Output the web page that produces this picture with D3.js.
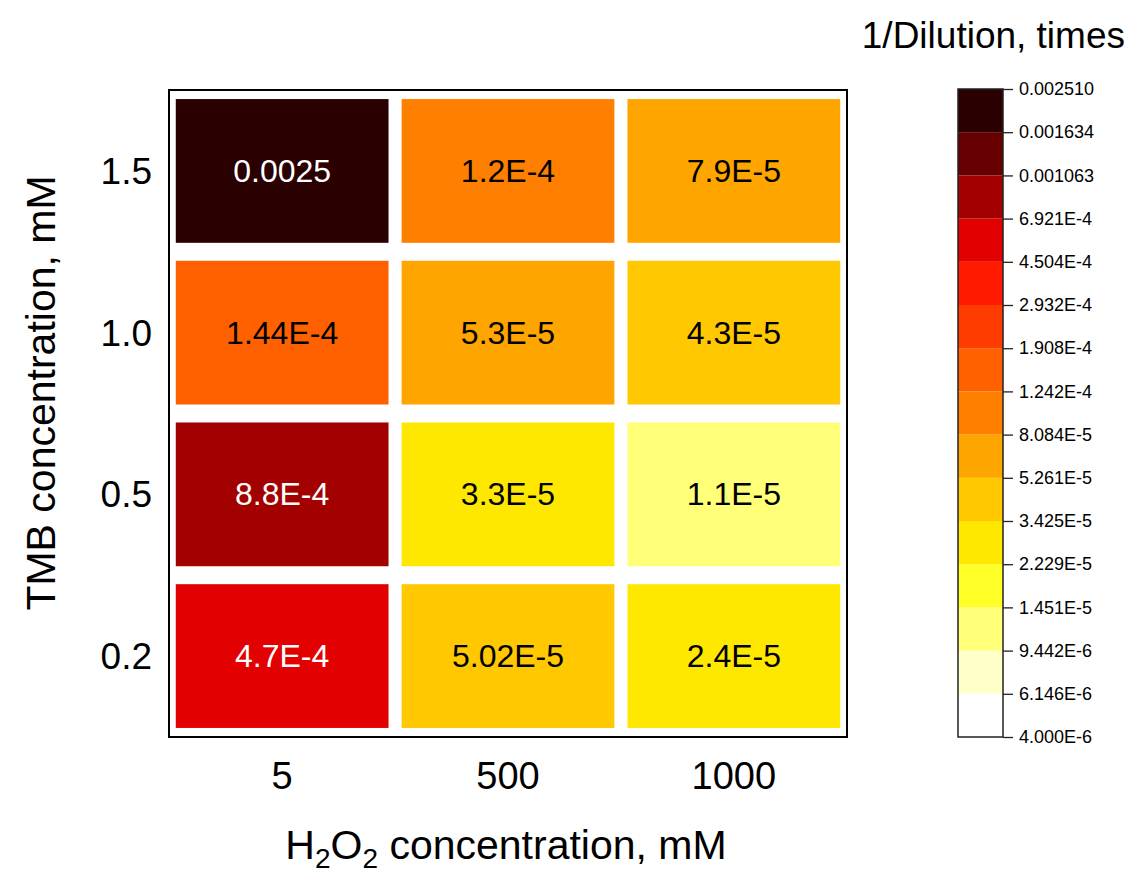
<!DOCTYPE html>
<html>
<head>
<meta charset="utf-8">
<script src="https://cdn.jsdelivr.net/npm/d3@7"></script>
<style>
  html, body { margin: 0; padding: 0; background: #fff; }
  svg { display: block; font-family: "Liberation Sans", Arial, sans-serif; }
</style>
</head>
<body>
<svg id="chart" width="1129" height="875"></svg>
<script>
// ---- Data ----
const h2o2Levels = ["5", "500", "1000"];            // x categories
const tmbLevels = ["1.5", "1.0", "0.5", "0.2"];     // y categories (top to bottom)
// values per TMB row (top to bottom), columns in h2o2 order
const row15 = [0.0025, 1.2e-4, 7.9e-5];
const row10 = [1.44e-4, 5.3e-5, 4.3e-5];
const row05 = [8.8e-4, 3.3e-5, 1.1e-5];
const row02 = [4.7e-4, 5.02e-5, 2.4e-5];
const labels15 = ["0.0025", "1.2E-4", "7.9E-5"];
const labels10 = ["1.44E-4", "5.3E-5", "4.3E-5"];
const labels05 = ["8.8E-4", "3.3E-5", "1.1E-5"];
const labels02 = ["4.7E-4", "5.02E-5", "2.4E-5"];
// legend tick values and labels (ascending)
const legendTicks = [4.000e-6, 6.146e-6, 9.442e-6, 1.451e-5, 2.229e-5, 3.425e-5, 5.261e-5, 8.084e-5,
                     1.242e-4, 1.908e-4, 2.932e-4, 4.504e-4, 6.921e-4, 0.001063, 0.001634, 0.002510];
const legendLabels = ["4.000E-6", "6.146E-6", "9.442E-6", "1.451E-5", "2.229E-5", "3.425E-5", "5.261E-5", "8.084E-5",
                      "1.242E-4", "1.908E-4", "2.932E-4", "4.504E-4", "6.921E-4", "0.001063", "0.001634", "0.002510"];
const bandColors = ["#ffffff", "#ffffc8", "#ffff78", "#ffff28", "#ffe800", "#ffc800", "#ffa500", "#ff8000",
                    "#ff6000", "#ff3c00", "#ff1a00", "#e30000", "#a30000", "#660000", "#2b0000"];

const rowValues = [row15, row10, row05, row02];
const rowLabels = [labels15, labels10, labels05, labels02];
const cells = [];
tmbLevels.forEach((t, i) => {
  h2o2Levels.forEach((h, j) => {
    cells.push({ tmb: t, h2o2: h, value: rowValues[i][j], label: rowLabels[i][j] });
  });
});

// ---- Layout ----
const svg = d3.select("#chart");
const frame = { x0: 169, x1: 847, y0: 90, y1: 737 };

const x = d3.scaleBand().domain(h2o2Levels).range([frame.x0, frame.x1])
  .paddingInner(0.058).paddingOuter(0.03);
const y = d3.scaleBand().domain(tmbLevels).range([frame.y0, frame.y1])
  .paddingInner(0.111).paddingOuter(0.056);

const color = d3.scaleThreshold().domain(legendTicks.slice(1, -1)).range(bandColors);

// cells
svg.append("g").selectAll("rect").data(cells).join("rect")
  .attr("x", d => x(d.h2o2))
  .attr("y", d => y(d.tmb))
  .attr("width", x.bandwidth())
  .attr("height", y.bandwidth())
  .attr("fill", d => color(d.value));

svg.append("g").selectAll("text").data(cells).join("text")
  .attr("x", d => x(d.h2o2) + x.bandwidth() / 2)
  .attr("y", d => y(d.tmb) + y.bandwidth() / 2)
  .attr("text-anchor", "middle")
  .attr("dominant-baseline", "central")
  .attr("font-size", 32)
  .attr("fill", d => d.value > 3e-4 ? "#ffffff" : "#000000")
  .text(d => d.label);

// frame
svg.append("rect")
  .attr("x", frame.x0).attr("y", frame.y0)
  .attr("width", frame.x1 - frame.x0).attr("height", frame.y1 - frame.y0)
  .attr("fill", "none").attr("stroke", "#000").attr("stroke-width", 2);

// axes tick labels
const xAxis = svg.append("g").attr("transform", `translate(0,${frame.y1})`)
  .call(d3.axisBottom(x).tickSize(0).tickPadding(52));
xAxis.select(".domain").remove();
xAxis.selectAll("text").attr("font-size", 38).attr("fill", "#000")
  .attr("font-family", "Liberation Sans, Arial, sans-serif").attr("dy", null)
  .attr("y", 52);

const yAxis = svg.append("g").attr("transform", `translate(${frame.x0},0)`)
  .call(d3.axisLeft(y).tickSize(0).tickPadding(17));
yAxis.select(".domain").remove();
yAxis.selectAll("text").attr("font-size", 37).attr("fill", "#000")
  .attr("font-family", "Liberation Sans, Arial, sans-serif").attr("dy", "0.35em");

// axis titles
const xt = svg.append("text")
  .attr("x", (frame.x0 + frame.x1) / 2 - 2)
  .attr("y", 859)
  .attr("text-anchor", "middle")
  .attr("font-size", 41)
  .attr("fill", "#000");
xt.append("tspan").text("H");
xt.append("tspan").text("2").attr("font-size", 28).attr("dy", 9);
xt.append("tspan").text("O").attr("dy", -9);
xt.append("tspan").text("2").attr("font-size", 28).attr("dy", 9);
xt.append("tspan").text(" concentration, mM").attr("dy", -9);

svg.append("text")
  .attr("transform", `translate(55,${393}) rotate(-90)`)
  .attr("text-anchor", "middle")
  .attr("font-size", 41)
  .attr("fill", "#000")
  .text("TMB concentration, mM");

// ---- Legend ----
const lg = { x0: 958, x1: 1003, y0: 89, y1: 737 };
const ly = d3.scaleLog().domain([legendTicks[0], legendTicks[legendTicks.length - 1]]).range([lg.y1, lg.y0]);

const bands = bandColors.map((c, i) => ({ lo: legendTicks[i], hi: legendTicks[i + 1], c }));
svg.append("g").selectAll("rect").data(bands).join("rect")
  .attr("x", lg.x0)
  .attr("y", d => ly(d.hi))
  .attr("width", lg.x1 - lg.x0)
  .attr("height", d => ly(d.lo) - ly(d.hi))
  .attr("fill", d => d.c);

svg.append("rect")
  .attr("x", lg.x0).attr("y", lg.y0)
  .attr("width", lg.x1 - lg.x0).attr("height", lg.y1 - lg.y0)
  .attr("fill", "none").attr("stroke", "#222").attr("stroke-width", 1.5);

const la = svg.append("g").attr("transform", `translate(${lg.x1},0)`)
  .call(d3.axisRight(ly).tickValues(legendTicks).tickFormat((d, i) => legendLabels[i])
    .tickSize(10).tickPadding(6));
la.select(".domain").remove();
la.selectAll(".tick line").attr("stroke", "#222").attr("stroke-width", 1.3);
la.selectAll("text").attr("font-size", 18).attr("fill", "#000")
  .attr("font-family", "Liberation Sans, Arial, sans-serif");

svg.append("text")
  .attr("x", 1125).attr("y", 48)
  .attr("text-anchor", "end")
  .attr("font-size", 37)
  .attr("fill", "#000")
  .text("1/Dilution, times");
</script>
</body>
</html>
